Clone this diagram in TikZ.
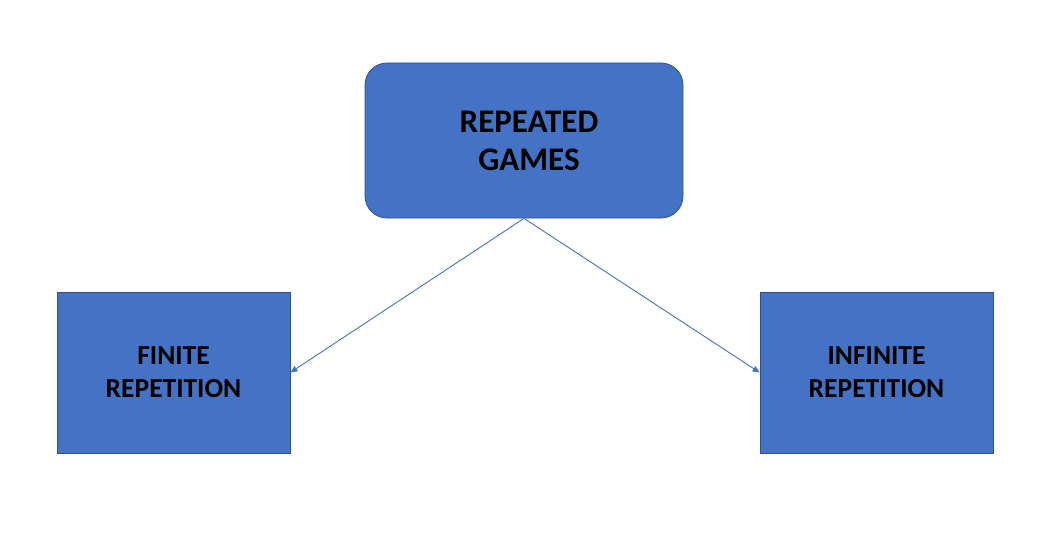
\documentclass[tikz,border=0pt]{standalone}
\usepackage{fontspec}
\setmainfont{Carlito}
\usetikzlibrary{arrows.meta}
\definecolor{boxfill}{HTML}{4472C4}
\definecolor{boxline}{HTML}{2F528F}
\definecolor{arrowc}{HTML}{4472C4}
\begin{document}
\begin{tikzpicture}[x=1pt,y=-1pt,
  boxstyle/.style={draw=boxline,line width=0.8pt,fill=boxfill,align=center,inner sep=0pt,font=\bfseries},
  conn/.style={draw=arrowc,line width=0.9pt,-{Triangle[length=7pt,width=6pt]}}]
\useasboundingbox[fill=white] (0,0) rectangle (1055,559);
\node[boxstyle,rounded corners=22pt,minimum width=318pt,minimum height=155pt,font=\bfseries\fontsize{33}{38}\selectfont] (top) at (524,140.5) {\hspace*{10pt}REPEATED\\\hspace*{10pt}GAMES};
\node[boxstyle,minimum width=233pt,minimum height=161pt,font=\bfseries\fontsize{27.5}{33}\selectfont] (left) at (173.5,372.5) {FINITE\\REPETITION};
\node[boxstyle,minimum width=233pt,minimum height=161pt,font=\bfseries\fontsize{27.5}{33}\selectfont] (right) at (876.5,372.5) {INFINITE\\REPETITION};
\draw[conn] (top.south) -- (left.east);
\draw[conn] (top.south) -- (right.west);
\end{tikzpicture}
\end{document}
